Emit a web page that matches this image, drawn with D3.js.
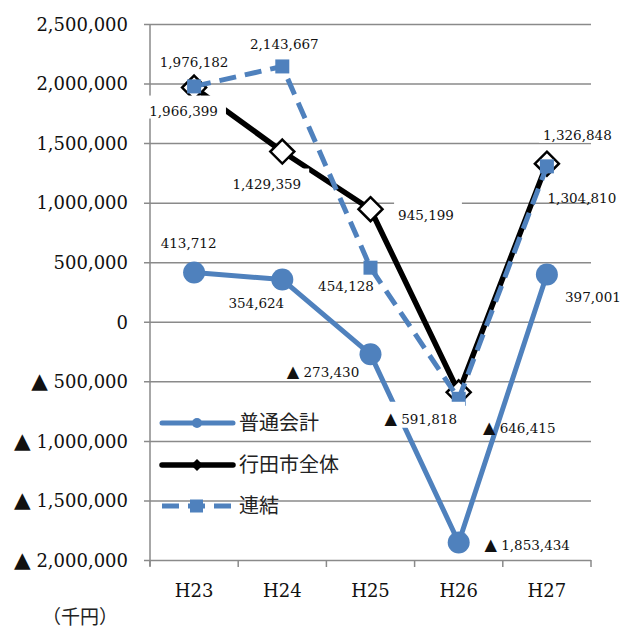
<!DOCTYPE html>
<html>
<head>
<meta charset="utf-8">
<script src="https://cdn.jsdelivr.net/npm/d3@7"></script>
<style>
  html, body { margin: 0; padding: 0; background: #fff; }
  svg { display: block; }
</style>
</head>
<body>
<svg id="chart" width="622" height="628"></svg>
<script>
// Fiscal years
const years = ["H23", "H24", "H25", "H26", "H27"];

// Balances in thousand yen
const general = [413712, 354624, -273430, -1853434, 397001];      // 普通会計
const wholeCity = [1966399, 1429359, 945199, -591818, 1326848];  // 行田市全体
const consolidated = [1976182, 2143667, 454128, -646415, 1304810]; // 連結

const seriesNames = ["普通会計", "行田市全体", "連結"];
const yTicks = [2500000, 2000000, 1500000, 1000000, 500000, 0, -500000, -1000000, -1500000, -2000000];

// Label offsets (px) from each point: [dx, dy]
const generalLabelOffsets = [[-5.5, -25], [-26, 28], [-47.5, 23], [68.5, 7], [46, 28]];
const wholeLabelOffsets = [[-10.5, 28], [-15.5, 37], [55.5, 11], [-38, 31.5], [30.5, -24]];
const consLabelOffsets = [[0, -19.6], [2, -17.6], [-24.5, 23], [60.5, 34], [35, 36.4]];

const blue = "#4F81BD";
const gridColor = "#8a8a8a";
const serif = "'DejaVu Serif', 'Liberation Serif', serif";
const cjk = "'Noto Sans CJK JP', 'Noto Sans', sans-serif";

const svg = d3.select("#chart");
const plot = { left: 150, right: 591, top: 24, bottom: 560 };

const x = d3.scaleBand().domain(years).range([plot.left, plot.right]).paddingInner(0).paddingOuter(0);
const y = d3.scaleLinear().domain([-2000000, 2500000]).range([plot.bottom, plot.top]);
const cx = d => x(d) + x.bandwidth() / 2;

const numFmt = d3.format(",");

// Writes a value into a text node; negatives get a ▲ mark
function writeValue(sel, v) {
  sel.text(null);
  if (v < 0) {
    sel.append("tspan").attr("font-family", "'DejaVu Sans', sans-serif").attr("font-size", "1.2em").text("▲");
    sel.append("tspan").text(" " + numFmt(-v));
  } else {
    sel.text(numFmt(v));
  }
}

// Gridlines with left ticks
const yAxis = d3.axisLeft(y).tickValues(yTicks).tickSize(-(plot.right - plot.left)).tickSizeOuter(0)
  .tickFormat(v => numFmt(v)).tickPadding(16);
const gy = svg.append("g").attr("transform", `translate(${plot.left},0)`).call(yAxis);
gy.select(".domain").remove();
gy.selectAll(".tick line").attr("stroke", gridColor).attr("stroke-width", 1.5).attr("x1", -6);
gy.selectAll(".tick text").attr("font-family", serif).attr("font-size", 18).attr("fill", "#111")
  .attr("x", -22).attr("dy", "0.35em")
  .each(function(v) { writeValue(d3.select(this), v); });

// Vertical axis line
svg.append("line").attr("x1", plot.left).attr("x2", plot.left)
  .attr("y1", plot.top).attr("y2", plot.bottom + 6)
  .attr("stroke", gridColor).attr("stroke-width", 1.5);

// Category axis: boundary ticks and labels
const bounds = years.map(d => x(d)).concat([plot.right]);
svg.append("g").selectAll("line").data(bounds).join("line")
  .attr("x1", d => d).attr("x2", d => d).attr("y1", plot.bottom).attr("y2", plot.bottom + 7)
  .attr("stroke", gridColor).attr("stroke-width", 1.5);
svg.append("g").selectAll("text").data(years).join("text")
  .attr("x", d => cx(d)).attr("y", 597).attr("text-anchor", "middle")
  .attr("font-family", serif).attr("font-size", 18).attr("fill", "#111").text(d => d);

// Unit caption
svg.append("text").attr("x", 42).attr("y", 624).attr("font-family", cjk)
  .attr("font-size", 19).attr("fill", "#222").text("（千円）");

const line = d3.line().x((d, i) => cx(years[i])).y(d => y(d));

// 普通会計
svg.append("path").datum(general).attr("d", line).attr("fill", "none")
  .attr("stroke", blue).attr("stroke-width", 5).attr("stroke-linejoin", "round");
svg.append("g").selectAll("circle").data(general).join("circle")
  .attr("cx", (d, i) => cx(years[i])).attr("cy", d => y(d)).attr("r", 11).attr("fill", blue);

// 行田市全体
const diamond = (s) => `M0,${-s}L${s},0L0,${s}L${-s},0Z`;
svg.append("path").datum(wholeCity).attr("d", line).attr("fill", "none")
  .attr("stroke", "#000").attr("stroke-width", 5.5).attr("stroke-linejoin", "round");
svg.append("g").selectAll("path").data(wholeCity).join("path")
  .attr("transform", (d, i) => `translate(${cx(years[i])},${y(d)})`)
  .attr("d", diamond(12)).attr("fill", "#fff").attr("stroke", "#000").attr("stroke-width", 2.5);

// 連結
svg.append("path").datum(consolidated).attr("d", line).attr("fill", "none")
  .attr("stroke", blue).attr("stroke-width", 5).attr("stroke-dasharray", "17,9");
svg.append("g").selectAll("rect").data(consolidated).join("rect")
  .attr("x", (d, i) => cx(years[i]) - 7).attr("y", d => y(d) - 7)
  .attr("width", 14).attr("height", 14).attr("fill", blue);

// Data labels (the 行田市全体 labels sit on a white box)
function labels(values, offsets, withBg) {
  const g = svg.append("g");
  values.forEach((v, i) => {
    const px = cx(years[i]) + offsets[i][0];
    const py = y(v) + offsets[i][1];
    const t = g.append("text").attr("x", px).attr("y", py).attr("text-anchor", "middle")
      .attr("font-family", serif).attr("font-size", 13.5).attr("fill", "#111");
    writeValue(t, v);
    if (withBg) {
      const b = t.node().getBBox();
      g.insert("rect", () => t.node()).attr("x", b.x - 4).attr("y", b.y - 7)
        .attr("width", b.width + 12).attr("height", b.height + 7).attr("fill", "#fff");
    }
  });
}
labels(general, generalLabelOffsets, false);
labels(consolidated, consLabelOffsets, false);
labels(wholeCity, wholeLabelOffsets, true);

// Legend
const legendRows = [423, 465, 506];
const lg = svg.append("g");
seriesNames.forEach((name, i) => {
  const yy = legendRows[i];
  const ln = lg.append("line").attr("x1", 162).attr("x2", 233).attr("y1", yy).attr("y2", yy)
    .attr("stroke-width", 5).attr("stroke-linecap", i === 2 ? "butt" : "round");
  if (i === 0) {
    ln.attr("stroke", blue);
    lg.append("circle").attr("cx", 197).attr("cy", yy).attr("r", 5).attr("fill", blue);
  } else if (i === 1) {
    ln.attr("stroke", "#000").attr("stroke-width", 5.5);
    lg.append("path").attr("transform", `translate(197,${yy})`).attr("d", diamond(6)).attr("fill", "#000");
  } else {
    ln.attr("stroke", blue).attr("stroke-dasharray", "17,9").attr("x1", 162).attr("x2", 232);
    lg.append("rect").attr("x", 190).attr("y", yy - 6.5).attr("width", 13).attr("height", 13).attr("fill", blue);
  }
  lg.append("text").attr("x", 239).attr("y", yy).attr("dy", "0.36em")
    .attr("font-family", cjk).attr("font-size", 20).attr("fill", "#222").text(name);
});
</script>
</body>
</html>
